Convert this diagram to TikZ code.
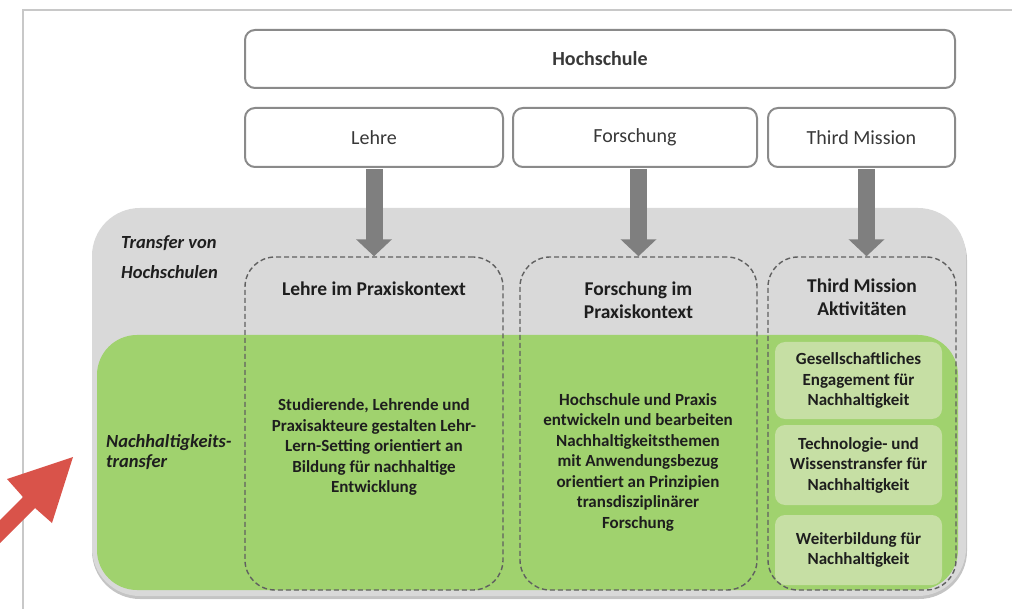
\documentclass[tikz,border=0pt]{standalone}
\usepackage{fontspec}
\setmainfont{Carlito}
\usetikzlibrary{arrows.meta}
\definecolor{framegray}{HTML}{C8C8C8}
\definecolor{panelgray}{HTML}{D9D9D9}
\definecolor{shadowgray}{HTML}{C4C4C4}
\definecolor{leafgreen}{HTML}{A0D26E}
\definecolor{palegreen}{HTML}{C6DFA4}
\definecolor{boxborder}{HTML}{8A8A8A}
\definecolor{boxtext}{HTML}{383838}
\definecolor{arrowgray}{HTML}{7F7F7F}
\definecolor{dashgray}{HTML}{606060}
\definecolor{inkdark}{HTML}{1E1E1E}
\definecolor{alertred}{HTML}{D9534A}
\tikzset{
  topbox/.style={draw=boxborder, line width=2pt, fill=white, rounded corners=10pt,
    inner sep=0pt, text=boxtext, font=\fontsize{20}{23}\selectfont},
  areabox/.style={draw=dashgray, line width=1.4pt, dash pattern=on 5pt off 3pt,
    rounded corners=30pt, inner sep=0pt},
  subbox/.style={fill=palegreen, rounded corners=10pt, inner sep=0pt, align=center,
    text=inkdark, font=\fontsize{17}{20.5}\selectfont\bfseries},
  headtext/.style={inner sep=0pt, align=center, text=inkdark,
    font=\fontsize{19.5}{23.5}\selectfont\bfseries},
  bodytext/.style={inner sep=0pt, align=center, text=inkdark,
    font=\fontsize{17}{20.5}\selectfont\bfseries},
  sidetext/.style={inner sep=0pt, align=left, text=inkdark},
  flowarrow/.style={draw=arrowgray, line width=17pt, -{Triangle[length=17pt,width=35pt]}}
}
\begin{document}
\begin{tikzpicture}[x=1pt,y=-1pt]
\useasboundingbox (0,0) rectangle (1012,609);

% page frame
\draw[framegray, line width=2pt] (23,609) -- (23,10) -- (1012,10);

% transfer panel with its soft lower edge
\fill[shadowgray, rounded corners=48pt] (92,212) rectangle (967,599);
\fill[panelgray, rounded corners=48pt] (92,208) rectangle (966,596);
% sustainability band
\fill[leafgreen, rounded corners=40pt] (97,335) rectangle (958,590);

% third mission activities
\node[subbox, minimum width=167pt, minimum height=77pt] (gesell) at (858.5,380.5)
  {Gesellschaftliches\\Engagement für\\Nachhaltigkeit};
\node[subbox, minimum width=167pt, minimum height=80pt] (techno) at (858.5,465)
  {Technologie- und\\Wissenstransfer für\\Nachhaltigkeit};
\node[subbox, minimum width=167pt, minimum height=70pt] (weiter) at (858.5,550)
  {Weiterbildung für\\Nachhaltigkeit};

% dashed areas
\node[areabox, minimum width=258pt, minimum height=333pt] (lehrearea) at (374,423.5) {};
\node[areabox, minimum width=237pt, minimum height=333pt] (forscharea) at (638.5,423.5) {};
\node[areabox, minimum width=188pt, minimum height=333pt] (thirdarea) at (862,423.5) {};

% top level boxes
\node[topbox, minimum width=710pt, minimum height=58pt, font=\fontsize{20}{23}\selectfont\bfseries] (hochschule) at (600,59) {Hochschule};
\node[topbox, minimum width=258pt, minimum height=59pt] (lehre) at (374,137.5) {Lehre};
\node[topbox, minimum width=244pt, minimum height=59pt] (forschung) at (635,137.5) {Forschung};
\node[topbox, minimum width=187pt, minimum height=59pt] (third) at (861.5,137.5) {Third Mission};

% flows into the areas
\coordinate (lx) at (374,0);
\coordinate (fx) at (638.5,0);
\coordinate (tx) at (866.5,0);
\draw[flowarrow] ([yshift=-1pt]lehre.south -| lx) -- (lehrearea.north -| lx);
\draw[flowarrow] ([yshift=-1pt]forschung.south -| fx) -- (forscharea.north -| fx);
\draw[flowarrow] ([yshift=-1pt]third.south -| tx) -- (thirdarea.north -| tx);

% area headings
\node[headtext] (lehrehead) at (374,289) {Lehre im Praxiskontext};
\node[headtext] (forschhead) at (638.5,300) {Forschung im\\Praxiskontext};
\node[headtext] (thirdhead) at (862,297) {Third Mission\\Aktivitäten};

% area descriptions
\node[bodytext] (lehrebody) at (374,447)
  {Studierende, Lehrende und\\Praxisakteure gestalten Lehr-\\Lern-Setting orientiert an\\Bildung für nachhaltige\\Entwicklung};
\node[bodytext] (forschbody) at (638,462)
  {Hochschule und Praxis\\entwickeln und bearbeiten\\Nachhaltigkeitsthemen\\mit Anwendungsbezug\\orientiert an Prinzipien\\transdisziplinärer\\Forschung};

% row labels
\node[sidetext, anchor=west, font=\fontsize{18.5}{30}\selectfont\bfseries\itshape] (transferlabel) at (121,257.5)
  {Transfer von\\Hochschulen};
\node[sidetext, anchor=west, font=\fontsize{18.5}{20}\selectfont\bfseries\itshape] (nachlabel) at (106,452.5)
  {Nachhaltigkeits-\\transfer};

% pointer arrow
\fill[alertred] (73,457) -- (7,479) -- (23,497) -- (-20,540) -- (-20,563) -- (35,508) -- (52,523) -- cycle;
\end{tikzpicture}
\end{document}
